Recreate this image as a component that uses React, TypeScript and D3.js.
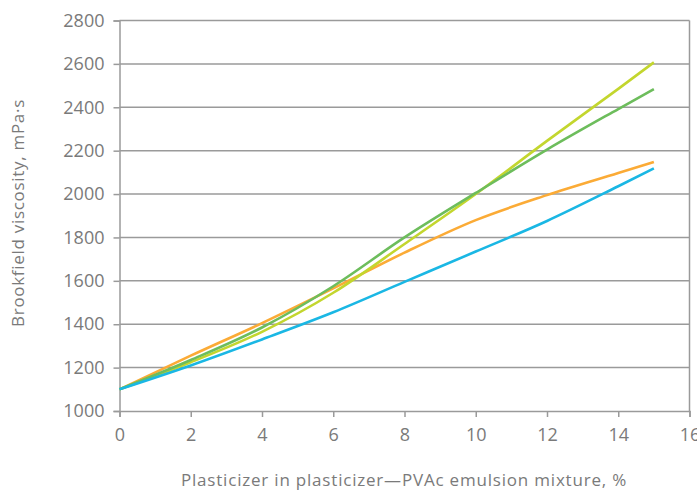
import React, { useEffect, useRef } from 'react';
import * as d3 from 'd3';

const xValues = [0, 2, 4, 6, 8, 10, 12, 14, 15];
const orange = [1100, 1255, 1405, 1565, 1730, 1880, 1995, 2097, 2148];
const yellowGreen = [1100, 1225, 1365, 1545, 1770, 2000, 2245, 2485, 2607];
const green = [1100, 1235, 1385, 1575, 1800, 2005, 2205, 2392, 2484];
const blue = [1100, 1210, 1330, 1455, 1595, 1735, 1876, 2036, 2118];

const xTicks = [0, 2, 4, 6, 8, 10, 12, 14, 16];
const yTicks = [1000, 1200, 1400, 1600, 1800, 2000, 2200, 2400, 2600, 2800];

const series = [
  { name: 'orange', values: orange, color: '#fbab36' },
  { name: 'yellowGreen', values: yellowGreen, color: '#c3d62e' },
  { name: 'green', values: green, color: '#6dbd5c' },
  { name: 'blue', values: blue, color: '#1ab7e4' },
];

const App = () => {
  const svgRef = useRef<SVGSVGElement | null>(null);

  useEffect(() => {
    if (!svgRef.current) return;
    const svg = d3.select(svgRef.current);
    svg.selectAll('*').remove();

    const margin = { top: 20.5, right: 7.5, bottom: 82, left: 119.5 };
    const width = 697 - margin.left - margin.right;
    const height = 493 - margin.top - margin.bottom;

    const g = svg.append('g').attr('transform', `translate(${margin.left},${margin.top})`);

    const x = d3.scaleLinear().domain([0, 16]).range([0, width]);
    const y = d3.scaleLinear().domain([1000, 2800]).range([height, 0]);

    const font = '"Open Sans", "Noto Sans", sans-serif';
    const textColor = '#7a7a7a';
    const gridColor = '#9a9a9a';

    // grid lines
    g.append('g')
      .selectAll('line')
      .data(yTicks.filter(d => d > 1000))
      .enter()
      .append('line')
      .attr('x1', 0)
      .attr('x2', width)
      .attr('y1', d => y(d))
      .attr('y2', d => y(d))
      .attr('stroke', gridColor)
      .attr('stroke-width', 1.5);

    // right border
    g.append('line')
      .attr('x1', width)
      .attr('x2', width)
      .attr('y1', 0)
      .attr('y2', height)
      .attr('stroke', gridColor)
      .attr('stroke-width', 1.5);

    // x axis
    const xAxis = g.append('g')
      .attr('transform', `translate(0,${height})`)
      .call(d3.axisBottom(x).tickValues(xTicks).tickFormat(d3.format('d')).tickSize(6).tickPadding(11));
    xAxis.select('.domain').attr('stroke', gridColor).attr('stroke-width', 1.5);
    xAxis.selectAll('.tick line').attr('stroke', gridColor).attr('stroke-width', 1.5);
    xAxis.selectAll('text')
      .attr('fill', textColor)
      .attr('font-size', '18px')
      .attr('font-family', font);

    // y axis
    const yAxis = g.append('g')
      .call(d3.axisLeft(y).tickValues(yTicks).tickFormat(d3.format('d')).tickSize(6).tickPadding(9));
    yAxis.select('.domain').attr('stroke', gridColor).attr('stroke-width', 1.5);
    yAxis.selectAll('.tick line').attr('stroke', gridColor).attr('stroke-width', 1.5);
    yAxis.selectAll('text')
      .attr('fill', textColor)
      .attr('font-size', '18px')
      .attr('font-family', font);

    // lines
    const line = d3.line<number>()
      .x((_, i) => x(xValues[i]))
      .y(d => y(d))
      .curve(d3.curveMonotoneX);

    series.forEach(s => {
      g.append('path')
        .datum(s.values)
        .attr('fill', 'none')
        .attr('stroke', s.color)
        .attr('stroke-width', 2.6)
        .attr('d', line);
    });

    // axis titles
    svg.append('text')
      .attr('x', 404)
      .attr('y', 486)
      .attr('text-anchor', 'middle')
      .attr('fill', textColor)
      .attr('font-size', '17px')
      .attr('letter-spacing', '0.8px')
      .attr('font-family', font)
      .text('Plasticizer in plasticizer\u2014PVAc emulsion mixture, %');

    svg.append('text')
      .attr('transform', 'rotate(-90)')
      .attr('x', -213)
      .attr('y', 24)
      .attr('text-anchor', 'middle')
      .attr('fill', textColor)
      .attr('font-size', '17px')
      .attr('letter-spacing', '0.7px')
      .attr('font-family', font)
      .text('Brookfield viscosity, mPa\u00b7s');
  }, []);

  return (
    <div style={{ position: 'fixed', left: 0, top: 0, width: 697, height: 493, background: '#fff' }}>
      <svg ref={svgRef} width={697} height={493} style={{ display: 'block' }} />
    </div>
  );
};

export default App;
